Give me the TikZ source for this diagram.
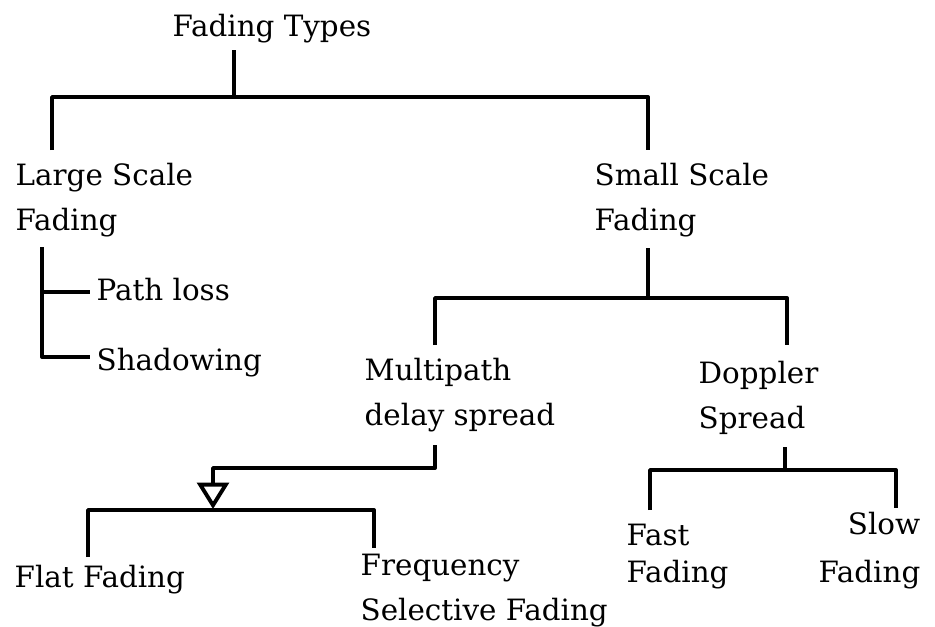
\documentclass[tikz,border=0pt]{standalone}
\usepackage{fontspec}
\setmainfont{DejaVu Serif}
\usetikzlibrary{arrows.meta}
\tikzset{
  lbl/.style={anchor=base west, inner sep=0pt, align=left,
    font=\fontsize{8.35pt}{12.8pt}\selectfont},
  branch/.style={line width=1.1pt, line join=round},
}
\begin{document}
\begin{tikzpicture}[x=0.01cm, y=-0.01cm]
	\useasboundingbox (0,0) rectangle (935,626);
	% labels (ancrés sur la dernière ligne)
	\node[lbl] (types) at (172,36) {Fading Types};
	\node[lbl] (large) at (15,230) {Large Scale\\Fading};
	\node[lbl] (small) at (594,230) {Small Scale\\Fading};
	\node[lbl] (path) at (96,300) {Path loss};
	\node[lbl] (shadow) at (96,370) {Shadowing};
	\node[lbl] (multi) at (364,425) {Multipath\\delay spread};
	\node[lbl] (doppler) at (698,428) {Doppler\\Spread};
	\node[lbl] (flat) at (14,587) {Flat Fading};
	\node[lbl] (freq) at (360,620) {Frequency\\Selective Fading};
	\node[lbl] (fast) at (626,582) {Fast\\[-2.3pt]Fading};
	\node[lbl, anchor=base east, align=right] (slow) at (921,582) {Slow\\[0.6pt]Fading};
	% points de branchement
	\coordinate (t-top) at (234,50);
	\coordinate (t-bar) at (234,97);
	\coordinate (ls-bar) at (52,97);
	\coordinate (ls-end) at (52,150);
	\coordinate (ss-bar) at (648,97);
	\coordinate (ss-end) at (648,150);
	\coordinate (l-top) at (42,247);
	\coordinate (l-mid) at (42,292);
	\coordinate (l-bot) at (42,357);
	\coordinate (pl-end) at (90,292);
	\coordinate (sh-end) at (90,357);
	\coordinate (s-top) at (648,248);
	\coordinate (s-bar) at (648,298);
	\coordinate (mp-bar) at (435,298);
	\coordinate (mp-end) at (435,345);
	\coordinate (dp-bar) at (787,298);
	\coordinate (dp-end) at (787,345);
	\coordinate (m-top) at (435,445);
	\coordinate (m-bend) at (435,468);
	\coordinate (m-turn) at (213,468);
	\coordinate (m-tip) at (213,509);
	\coordinate (ff-end) at (88,557);
	\coordinate (ff-bar) at (88,510);
	\coordinate (fs-bar) at (374,510);
	\coordinate (fs-end) at (374,548);
	\coordinate (d-top) at (785,447);
	\coordinate (d-bar) at (785,470);
	\coordinate (fa-end) at (650,510);
	\coordinate (fa-bar) at (650,470);
	\coordinate (sl-bar) at (896,470);
	\coordinate (sl-end) at (896,508);
	% branches
	\draw[branch] (t-top)--(t-bar);
	\draw[branch] (ls-end)--(ls-bar)--(ss-bar)--(ss-end);
	\draw[branch] (l-top)--(l-bot)--(sh-end);
	\draw[branch] (l-mid)--(pl-end);
	\draw[branch] (s-top)--(s-bar);
	\draw[branch] (mp-end)--(mp-bar)--(dp-bar)--(dp-end);
	\draw[branch, -{Triangle[open, width=9pt, length=7.5pt, line width=1.1pt]}] (m-top)--(m-bend)--(m-turn)--(m-tip);
	\draw[branch] (ff-end)--(ff-bar)--(fs-bar)--(fs-end);
	\draw[branch] (d-top)--(d-bar);
	\draw[branch] (fa-end)--(fa-bar)--(sl-bar)--(sl-end);
\end{tikzpicture}
\end{document}
